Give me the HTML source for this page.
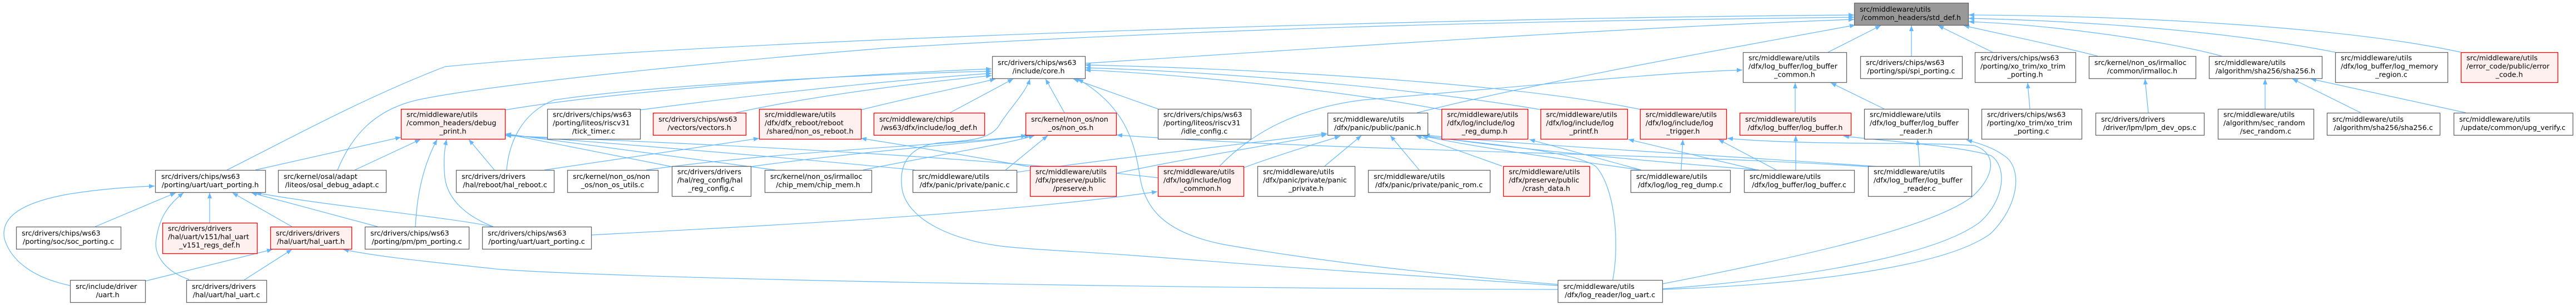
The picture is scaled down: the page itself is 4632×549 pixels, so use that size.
<!DOCTYPE html>
<html>
<head>
<meta charset="utf-8">
<style>
html,body{margin:0;padding:0;background:#fff;}
svg{display:block;}
text{font-family:"DejaVu Sans","Liberation Sans",sans-serif;font-size:12.7px;fill:#000;}
rect.n{fill:#fff;stroke:#666;stroke-width:1.3;}
rect.r{fill:#fff0f0;stroke:#f00;stroke-width:1.3;}
rect.root{fill:#999;stroke:#666;stroke-width:1.3;}
path.e{fill:none;stroke:#63b8ff;stroke-width:1.2;marker-end:url(#a);}
text.c{text-anchor:middle;}
</style>
</head>
<body>
<svg width="4632" height="549" viewBox="0 0 4632 549" xmlns="http://www.w3.org/2000/svg">
<defs>
<marker id="a" markerWidth="12" markerHeight="10" refX="10" refY="4" orient="auto" markerUnits="userSpaceOnUse">
<path d="M0,0 L10,4 L0,8 z" fill="#63b8ff"/>
</marker>
</defs>
<rect x="0" y="0" width="4632" height="549" fill="#fff"/>

<!-- edges -->
<g>
<path class="e" d="M1951,114 C2300,92 2900,50 3334,35"/>
<path class="e" d="M408,306 C520,250 650,178 800,120 C1300,70 2600,32 3334,27"/>
<path class="e" d="M607,306 C630,250 670,195 760,178 C900,150 1300,110 1600,86 C2300,45 2800,38 3334,31"/>
<path class="e" d="M2548,203 C2800,140 3150,80 3336,45"/>
<path class="e" d="M3287,94 L3382,46"/>
<path class="e" d="M3437,101 L3437,46"/>
<path class="e" d="M3583,94 L3485,46"/>
<path class="e" d="M3772,101 C3700,82 3600,62 3531,46"/>
<path class="e" d="M3995,101 C3900,75 3700,45 3540,39"/>
<path class="e" d="M4199,94 C4000,55 3750,38 3540,33"/>
<path class="e" d="M4425,94 C4200,45 3800,28 3540,27"/>

<path class="e" d="M908,198 C1100,165 1500,135 1783,124"/>
<path class="e" d="M911,306 C915,260 935,205 996,180 C1200,150 1600,133 1783,128"/>
<path class="e" d="M1150,198 C1400,165 1600,145 1783,132"/>
<path class="e" d="M1323,203 C1450,175 1620,152 1783,136"/>
<path class="e" d="M1547,198 C1650,172 1740,155 1790,142"/>
<path class="e" d="M1708,203 L1822,142"/>
<path class="e" d="M1914,203 L1880,142"/>
<path class="e" d="M2082,196 L1930,142"/>
<path class="e" d="M2595,198 C2400,160 2100,132 1951,126"/>
<path class="e" d="M2775,198 C2500,152 2150,128 1951,122"/>
<path class="e" d="M2955,198 C2700,145 2200,122 1951,117"/>
<path class="e" d="M2801,514 C2500,495 2300,480 2041,460 C1950,453 1860,450 1800,443 C1700,430 1630,390 1622,340 C1615,290 1640,262 1690,257 C1750,253 1785,250 1800,220 C1820,190 1845,165 1852,142"/>
<path class="e" d="M2801,512 C2600,495 2400,475 2200,440 C2100,420 2060,380 2050,320 C2040,250 2020,190 1938,142"/>

<path class="e" d="M459,306 L721,247"/>
<path class="e" d="M638,306 L756,251"/>
<path class="e" d="M747,408 C750,340 765,290 786,251"/>
<path class="e" d="M887,408 C840,390 805,360 800,320 C797,290 799,270 803,251"/>
<path class="e" d="M889,306 L843,251"/>
<path class="e" d="M1208,300 L909,241"/>
<path class="e" d="M1394,306 L909,241"/>
<path class="e" d="M1645,306 C1400,282 1100,258 909,243"/>
<path class="e" d="M2082,320 C1700,276 1200,257 909,244"/>

<path class="e" d="M1162,306 C1400,272 1700,262 1846,244"/>
<path class="e" d="M1350,300 C1550,272 1750,258 1852,244"/>
<path class="e" d="M1552,306 C1650,285 1800,262 1860,244"/>
<path class="e" d="M1808,306 L1884,244"/>
<path class="e" d="M3359,300 C3000,276 2400,272 2008,243"/>

<path class="e" d="M979,306 L1365,249"/>
<path class="e" d="M1850,300 C1750,282 1650,265 1548,249"/>

<path class="e" d="M1828,310 C2000,285 2250,258 2386,240"/>
<path class="e" d="M2007,312 C2150,282 2300,258 2386,242"/>
<path class="e" d="M2236,302 C2300,278 2370,258 2410,245"/>
<path class="e" d="M2382,299 L2448,244"/>
<path class="e" d="M2552,306 L2500,244"/>
<path class="e" d="M2701,299 L2546,244"/>
<path class="e" d="M2951,306 C2800,285 2650,265 2556,244"/>
<path class="e" d="M3163,306 C2900,285 2700,265 2558,244"/>
<path class="e" d="M3380,300 C3100,280 2750,262 2561,243"/>
<path class="e" d="M2900,504 C2912,440 2905,340 2870,300 C2830,270 2650,258 2557,244"/>

<path class="e" d="M2193,299 C2250,240 2330,195 2450,180 C2800,150 3000,130 3133,126"/>
<path class="e" d="M1063,423 C1400,405 1800,385 2081,345"/>
<path class="e" d="M3228,203 L3228,149"/>
<path class="e" d="M3388,196 L3292,149"/>
<path class="e" d="M2951,306 L2750,251"/>
<path class="e" d="M3160,306 L2928,251"/>
<path class="e" d="M3023,306 L3026,251"/>
<path class="e" d="M3194,306 L3090,251"/>
<path class="e" d="M2989,511 C3250,460 3470,410 3545,355 C3590,315 3590,275 3550,262 C3450,255 3250,262 3106,249"/>
<path class="e" d="M2989,520 C3250,500 3480,460 3560,400 C3605,360 3610,300 3580,280 C3520,262 3400,255 3315,245"/>
<path class="e" d="M2989,521 C3250,512 3500,480 3580,420 C3630,370 3635,310 3610,285 C3590,268 3560,258 3536,252"/>
<path class="e" d="M3229,306 L3229,244"/>
<path class="e" d="M3452,299 L3448,251"/>
<path class="e" d="M3650,196 L3646,149"/>
<path class="e" d="M3863,203 L3857,142"/>
<path class="e" d="M4073,196 L4073,142"/>
<path class="e" d="M4245,203 L4122,142"/>
<path class="e" d="M4434,203 L4155,142"/>

<path class="e" d="M126,514 C60,500 20,470 8,430 C0,390 40,365 120,350 C180,340 240,336 278,335"/>
<path class="e" d="M171,408 L316,347"/>
<path class="e" d="M340,503 C300,490 275,460 281,430 C286,395 300,370 330,347"/>
<path class="e" d="M377,401 L377,347"/>
<path class="e" d="M525,408 L418,347"/>
<path class="e" d="M679,408 L452,347"/>
<path class="e" d="M887,408 C800,390 600,372 460,347"/>

<path class="e" d="M261,506 L490,449"/>
<path class="e" d="M439,504 L525,449"/>
<path class="e" d="M2801,521 C2200,520 1200,505 900,485 C760,470 680,462 617,449"/>
</g>

<!-- nodes -->
<g>
<!-- row 1 -->
<rect class="root" x="3334.5" y="5.5" width="205" height="40"/>
<text x="3344" y="21">src/middleware/utils</text>
<text class="c" x="3436.5" y="36">/common_headers/std_def.h</text>

<!-- row 2 -->
<rect class="n" x="1784.5" y="101.5" width="167" height="40"/>
<text x="1794" y="117">src/drivers/chips/ws63</text>
<text class="c" x="1867.5" y="132">/include/core.h</text>

<rect class="n" x="3134.5" y="94.5" width="186" height="54"/>
<text x="3144" y="108.5">src/middleware/utils</text>
<text x="3144" y="123.5">/dfx/log_buffer/log_buffer</text>
<text class="c" x="3227" y="138.5">_common.h</text>

<rect class="n" x="3345.5" y="101.5" width="183" height="40"/>
<text x="3355" y="117">src/drivers/chips/ws63</text>
<text class="c" x="3436.5" y="132">/porting/spi/spi_porting.c</text>

<rect class="n" x="3551.5" y="94.5" width="181" height="54"/>
<text x="3561" y="108.5">src/drivers/chips/ws63</text>
<text x="3561" y="123.5">/porting/xo_trim/xo_trim</text>
<text class="c" x="3641.5" y="138.5">_porting.h</text>

<rect class="n" x="3756.5" y="101.5" width="192" height="40"/>
<text x="3766" y="117">src/kernel/non_os/irmalloc</text>
<text class="c" x="3852" y="132">/common/irmalloc.h</text>

<rect class="n" x="3972.5" y="101.5" width="203" height="40"/>
<text x="3982" y="117">src/middleware/utils</text>
<text class="c" x="4073.5" y="132">/algorithm/sha256/sha256.h</text>

<rect class="n" x="4199.5" y="94.5" width="202" height="54"/>
<text x="4209" y="108.5">src/middleware/utils</text>
<text x="4209" y="123.5">/dfx/log_buffer/log_memory</text>
<text class="c" x="4300" y="138.5">_region.c</text>

<rect class="r" x="4425.5" y="94.5" width="174" height="54"/>
<text x="4435" y="108.5">src/middleware/utils</text>
<text x="4435" y="123.5">/error_code/public/error</text>
<text class="c" x="4512" y="138.5">_code.h</text>

<!-- row 3 -->
<rect class="r" x="721.5" y="196.5" width="187" height="54"/>
<text x="731" y="210.5">src/middleware/utils</text>
<text x="731" y="225.5">/common_headers/debug</text>
<text class="c" x="814.5" y="240.5">_print.h</text>

<rect class="n" x="984.5" y="196.5" width="167" height="54"/>
<text x="994" y="210.5">src/drivers/chips/ws63</text>
<text x="994" y="225.5">/porting/liteos/riscv31</text>
<text class="c" x="1067.5" y="240.5">/tick_timer.c</text>

<rect class="r" x="1174.5" y="203.5" width="167" height="40"/>
<text x="1184" y="219">src/drivers/chips/ws63</text>
<text class="c" x="1257.5" y="234">/vectors/vectors.h</text>

<rect class="r" x="1365.5" y="196.5" width="183" height="54"/>
<text x="1375" y="210.5">src/middleware/utils</text>
<text x="1375" y="225.5">/dfx/dfx_reboot/reboot</text>
<text class="c" x="1456.5" y="240.5">/shared/non_os_reboot.h</text>

<rect class="r" x="1571.5" y="203.5" width="199" height="40"/>
<text x="1581" y="219">src/middleware/chips</text>
<text class="c" x="1670.5" y="234">/ws63/dfx/include/log_def.h</text>

<rect class="r" x="1844.5" y="203.5" width="163" height="40"/>
<text x="1854" y="219">src/kernel/non_os/non</text>
<text class="c" x="1925.5" y="234">_os/non_os.h</text>

<rect class="n" x="2082.5" y="196.5" width="167" height="54"/>
<text x="2092" y="210.5">src/drivers/chips/ws63</text>
<text x="2092" y="225.5">/porting/liteos/riscv31</text>
<text class="c" x="2165.5" y="240.5">/idle_config.c</text>

<rect class="n" x="2387.5" y="203.5" width="180" height="40"/>
<text x="2397" y="219">src/middleware/utils</text>
<text class="c" x="2477" y="234">/dfx/panic/public/panic.h</text>

<rect class="r" x="2592.5" y="196.5" width="155" height="54"/>
<text x="2602" y="210.5">src/middleware/utils</text>
<text x="2602" y="225.5">/dfx/log/include/log</text>
<text class="c" x="2669.5" y="240.5">_reg_dump.h</text>

<rect class="r" x="2770.5" y="196.5" width="156" height="54"/>
<text x="2780" y="210.5">src/middleware/utils</text>
<text x="2780" y="225.5">/dfx/log/include/log</text>
<text class="c" x="2848" y="240.5">_printf.h</text>

<rect class="r" x="2949.5" y="196.5" width="155" height="54"/>
<text x="2959" y="210.5">src/middleware/utils</text>
<text x="2959" y="225.5">/dfx/log/include/log</text>
<text class="c" x="3026.5" y="240.5">_trigger.h</text>

<rect class="r" x="3128.5" y="203.5" width="200" height="40"/>
<text x="3138" y="219">src/middleware/utils</text>
<text class="c" x="3228" y="234">/dfx/log_buffer/log_buffer.h</text>

<rect class="n" x="3352.5" y="196.5" width="187" height="54"/>
<text x="3362" y="210.5">src/middleware/utils</text>
<text x="3362" y="225.5">/dfx/log_buffer/log_buffer</text>
<text class="c" x="3445.5" y="240.5">_reader.h</text>

<rect class="n" x="3563.5" y="196.5" width="180" height="54"/>
<text x="3573" y="210.5">src/drivers/chips/ws63</text>
<text x="3573" y="225.5">/porting/xo_trim/xo_trim</text>
<text class="c" x="3653" y="240.5">_porting.c</text>

<rect class="n" x="3768.5" y="203.5" width="195" height="40"/>
<text x="3778" y="219">src/drivers/drivers</text>
<text class="c" x="3865.5" y="234">/driver/lpm/lpm_dev_ops.c</text>

<rect class="n" x="3988.5" y="196.5" width="172" height="54"/>
<text x="3998" y="210.5">src/middleware/utils</text>
<text x="3998" y="225.5">/algorithm/sec_random</text>
<text class="c" x="4074" y="240.5">/sec_random.c</text>

<rect class="n" x="4184.5" y="203.5" width="203" height="40"/>
<text x="4194" y="219">src/middleware/utils</text>
<text class="c" x="4285.5" y="234">/algorithm/sha256/sha256.c</text>

<rect class="n" x="4412.5" y="203.5" width="214" height="40"/>
<text x="4422" y="219">src/middleware/utils</text>
<text class="c" x="4519" y="234">/update/common/upg_verify.c</text>

<!-- row 4 -->
<rect class="n" x="279.5" y="306.5" width="198" height="40"/>
<text x="290" y="322">src/drivers/chips/ws63</text>
<text class="c" x="378" y="337">/porting/uart/uart_porting.h</text>

<rect class="n" x="500.5" y="306.5" width="194" height="40"/>
<text x="510" y="322">src/kernel/osal/adapt</text>
<text class="c" x="597" y="337">/liteos/osal_debug_adapt.c</text>

<rect class="n" x="820.5" y="306.5" width="176" height="40"/>
<text x="830" y="322">src/drivers/drivers</text>
<text class="c" x="908" y="337">/hal/reboot/hal_reboot.c</text>

<rect class="n" x="1020.5" y="306.5" width="163" height="40"/>
<text x="1030" y="322">src/kernel/non_os/non</text>
<text class="c" x="1101.5" y="337">_os/non_os_utils.c</text>

<rect class="n" x="1208.5" y="299.5" width="142" height="54"/>
<text x="1218" y="313.5">src/drivers/drivers</text>
<text x="1218" y="328.5">/hal/reg_config/hal</text>
<text class="c" x="1279" y="343.5">_reg_config.c</text>

<rect class="n" x="1375.5" y="306.5" width="192" height="40"/>
<text x="1385" y="322">src/kernel/non_os/irmalloc</text>
<text class="c" x="1471" y="337">/chip_mem/chip_mem.h</text>

<rect class="n" x="1641.5" y="306.5" width="187" height="40"/>
<text x="1651" y="322">src/middleware/utils</text>
<text class="c" x="1734.5" y="337">/dfx/panic/private/panic.c</text>

<rect class="r" x="1852.5" y="299.5" width="155" height="54"/>
<text x="1862" y="313.5">src/middleware/utils</text>
<text x="1862" y="328.5">/dfx/preserve/public</text>
<text class="c" x="1929.5" y="343.5">/preserve.h</text>

<rect class="r" x="2082.5" y="299.5" width="154" height="54"/>
<text x="2092" y="313.5">src/middleware/utils</text>
<text x="2092" y="328.5">/dfx/log/include/log</text>
<text class="c" x="2159" y="343.5">_common.h</text>

<rect class="n" x="2261.5" y="299.5" width="175" height="54"/>
<text x="2271" y="313.5">src/middleware/utils</text>
<text x="2271" y="328.5">/dfx/panic/private/panic</text>
<text class="c" x="2348.5" y="343.5">_private.h</text>

<rect class="n" x="2460.5" y="306.5" width="219" height="40"/>
<text x="2470" y="322">src/middleware/utils</text>
<text class="c" x="2569.5" y="337">/dfx/panic/private/panic_rom.c</text>

<rect class="r" x="2703.5" y="299.5" width="155" height="54"/>
<text x="2713" y="313.5">src/middleware/utils</text>
<text x="2713" y="328.5">/dfx/preserve/public</text>
<text class="c" x="2780.5" y="343.5">/crash_data.h</text>

<rect class="n" x="2932.5" y="306.5" width="179" height="40"/>
<text x="2942" y="322">src/middleware/utils</text>
<text class="c" x="3021.5" y="337">/dfx/log/log_reg_dump.c</text>

<rect class="n" x="3136.5" y="306.5" width="198" height="40"/>
<text x="3146" y="322">src/middleware/utils</text>
<text class="c" x="3235" y="337">/dfx/log_buffer/log_buffer.c</text>

<rect class="n" x="3359.5" y="299.5" width="186" height="54"/>
<text x="3369" y="313.5">src/middleware/utils</text>
<text x="3369" y="328.5">/dfx/log_buffer/log_buffer</text>
<text class="c" x="3452" y="343.5">_reader.c</text>

<!-- row 5 -->
<rect class="n" x="29.5" y="408.5" width="188" height="40"/>
<text x="39" y="424">src/drivers/chips/ws63</text>
<text class="c" x="123" y="439">/porting/soc/soc_porting.c</text>

<rect class="r" x="292.5" y="401.5" width="170" height="55"/>
<text x="302" y="415.5">src/drivers/drivers</text>
<text x="302" y="430.5">/hal/uart/v151/hal_uart</text>
<text class="c" x="377" y="445.5">_v151_regs_def.h</text>

<rect class="r" x="486.5" y="408.5" width="146" height="40"/>
<text x="496" y="424">src/drivers/drivers</text>
<text class="c" x="559" y="439">/hal/uart/hal_uart.h</text>

<rect class="n" x="656.5" y="408.5" width="187" height="40"/>
<text x="666" y="424">src/drivers/chips/ws63</text>
<text class="c" x="749.5" y="439">/porting/pm/pm_porting.c</text>

<rect class="n" x="867.5" y="408.5" width="196" height="40"/>
<text x="877" y="424">src/drivers/chips/ws63</text>
<text class="c" x="965" y="439">/porting/uart/uart_porting.c</text>

<!-- row 6 -->
<rect class="n" x="126.5" y="504.5" width="135" height="40"/>
<text x="136" y="520">src/include/driver</text>
<text class="c" x="193.5" y="535">/uart.h</text>

<rect class="n" x="335.5" y="504.5" width="144" height="40"/>
<text x="345" y="520">src/drivers/drivers</text>
<text class="c" x="407" y="535">/hal/uart/hal_uart.c</text>

<rect class="n" x="2801.5" y="504.5" width="188" height="40"/>
<text x="2811" y="520">src/middleware/utils</text>
<text class="c" x="2895" y="535">/dfx/log_reader/log_uart.c</text>
</g>
</svg>
</body>
</html>
